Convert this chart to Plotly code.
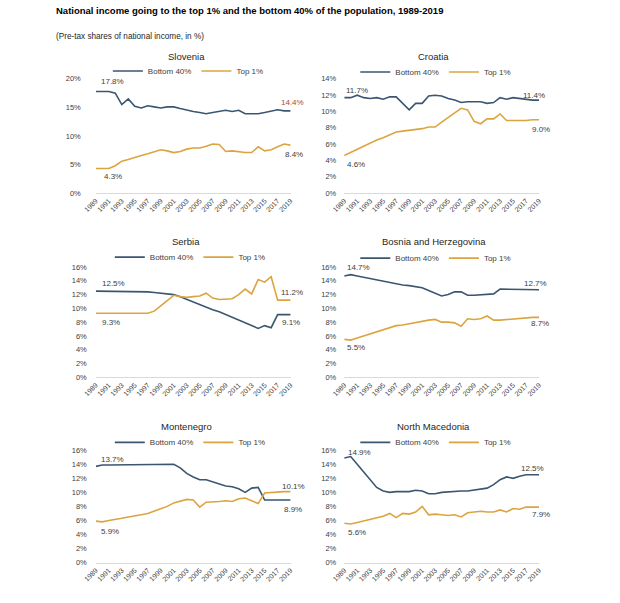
import plotly.graph_objects as go

YEARS = list(range(1989, 2020))
TICK_YEARS = list(range(1989, 2020, 2))
TICK_TEXT = [str(y) for y in TICK_YEARS]

COUNTRIES = ["Slovenia", "Croatia", "Serbia", "Bosnia and Herzegovina", "Montenegro", "North Macedonia"]

slovenia_bottom40 = [17.8, 17.8, 17.8, 17.5, 15.5, 16.5, 15.2, 14.9, 15.3, 15.1, 14.9, 15.1, 15.1, 14.8, 14.5, 14.3,
                     14.1, 13.9, 14.1, 14.3, 14.5, 14.3, 14.5, 13.9, 13.9, 13.9, 14.1, 14.3, 14.6, 14.4, 14.4]
slovenia_top1 = [4.3, 4.3, 4.3, 4.8, 5.6, 5.9, 6.3, 6.6, 6.9, 7.2, 7.6, 7.4, 7.1, 7.3, 7.7, 7.9,
                 7.9, 8.2, 8.6, 8.5, 7.3, 7.4, 7.2, 7.1, 7.1, 8.1, 7.4, 7.6, 8.1, 8.6, 8.4]

croatia_bottom40 = [11.7, 11.7, 12.0, 11.7, 11.6, 11.7, 11.5, 11.8, 11.8, 11.0, 10.2, 11.0, 11.0, 11.9, 12.0, 11.9,
                    11.6, 11.4, 11.1, 11.2, 11.2, 11.2, 11.0, 11.1, 11.7, 11.5, 11.7, 11.6, 11.5, 11.4, 11.4]
croatia_top1 = [4.6, 5.0, 5.4, 5.8, 6.1, 6.5, 6.8, 7.2, 7.5, 7.6, 7.7, 7.8, 7.9, 8.1, 8.1, 8.7,
                9.3, 9.9, 10.4, 10.2, 8.8, 8.5, 9.1, 9.1, 9.7, 8.9, 8.9, 8.9, 8.9, 9.0, 9.0]

serbia_bottom40 = [12.5, 12.5, 12.5, 12.5, 12.5, 12.5, 12.5, 12.5, 12.4, 12.3, 12.2, 12.1, 12.0, 11.7, 11.3, 10.9,
                   10.5, 10.1, 9.8, 9.5, 9.1, 8.7, 8.2, 7.9, 7.5, 7.1, 7.5, 7.2, 9.1, 9.1, 9.1]
serbia_top1 = [9.3, 9.3, 9.3, 9.3, 9.3, 9.3, 9.3, 9.3, 9.3, 9.6, 10.4, 11.2, 11.9, 11.7, 11.6, 11.7,
               11.8, 12.2, 11.5, 11.3, 11.4, 11.4, 12.0, 12.8, 12.1, 14.2, 13.8, 14.6, 11.2, 11.2, 11.2]

bosnia_bottom40 = [14.7, 14.9, 14.7, 14.5, 14.3, 14.1, 13.9, 13.7, 13.5, 13.4, 13.3, 13.1, 13.0, 12.6, 12.2, 11.8,
                   12.0, 12.4, 12.4, 11.9, 11.9, 12.0, 12.0, 12.1, 12.8, 12.8, 12.7, 12.8, 12.7, 12.7, 12.7]
bosnia_top1 = [5.5, 5.4, 5.7, 6.0, 6.3, 6.6, 6.9, 7.2, 7.5, 7.6, 7.8, 8.0, 8.2, 8.3, 8.4, 8.0,
               8.0, 7.9, 7.4, 8.5, 8.4, 8.5, 8.9, 8.3, 8.3, 8.4, 8.5, 8.5, 8.6, 8.7, 8.7]

montenegro_bottom40 = [13.7, 13.9, 13.9, 13.9, 13.9, 13.9, 13.9, 13.9, 13.9, 14.0, 14.0, 14.0, 14.0, 13.5, 12.7, 12.2,
                       11.8, 11.8, 11.5, 11.2, 10.9, 10.8, 10.5, 10.0, 10.6, 10.7, 8.9, 8.9, 8.9, 8.9, 8.9]
montenegro_top1 = [5.9, 5.8, 6.0, 6.1, 6.3, 6.5, 6.6, 6.8, 7.0, 7.3, 7.6, 8.0, 8.5, 8.8, 9.0, 8.9,
                   7.9, 8.6, 8.6, 8.7, 8.8, 8.7, 9.1, 9.2, 8.8, 8.4, 9.9, 10.0, 10.0, 10.1, 10.1]

macedonia_bottom40 = [14.9, 15.1, 14.0, 12.9, 11.8, 10.7, 10.2, 10.0, 10.1, 10.1, 10.1, 10.3, 10.2, 9.8, 9.8, 10.0,
                      10.1, 10.2, 10.2, 10.2, 10.3, 10.4, 10.6, 11.1, 11.8, 12.2, 12.0, 12.3, 12.5, 12.5, 12.5]
macedonia_top1 = [5.6, 5.5, 5.7, 5.9, 6.1, 6.3, 6.6, 7.0, 6.4, 7.0, 6.9, 7.2, 8.0, 6.8, 6.9, 6.8,
                  6.7, 6.8, 6.5, 7.1, 7.2, 7.3, 7.2, 7.2, 7.5, 7.2, 7.7, 7.6, 7.9, 7.9, 7.9]

BOTTOM40 = [slovenia_bottom40, croatia_bottom40, serbia_bottom40, bosnia_bottom40, montenegro_bottom40, macedonia_bottom40]
TOP1 = [slovenia_top1, croatia_top1, serbia_top1, bosnia_top1, montenegro_top1, macedonia_top1]
Y_MAX = [20, 14, 16, 16, 16, 16]
Y_DTICK = [5, 2, 2, 2, 2, 2]

TITLE = "National income going to the top 1% and the bottom 40% of the population, 1989-2019"
SUBTITLE = "(Pre-tax shares of national income, in %)"

# ---------- styling / layout ----------
W, H = 620, 603
FONT = "Liberation Sans, Arial, sans-serif"
C_BOTTOM = "#3a5670"
C_TOP = "#dca43f"
TXT = "#404040"

def px_x(p):
    return p / W

def px_y(p):
    return 1 - p / H

X_DOMAINS = [(85, 285), (340, 540)]
Y_DOMAINS = [(76, 192), (267, 379), (453, 567)]
TITLE_POS = [(178, 53), (432, 53), (178, 241), (432, 241), (178, 429), (432, 429)]
LEGEND_POS = [(180, 68), (434, 69), (182, 257), (434, 258), (182, 445), (434, 445)]
STANDOFF = [14, 7, 8, 7, 8, 7]
# (xshift, yshift) for start-top, start-bottom, end-top, end-bottom labels
LABEL_SHIFTS = [
    [(17, 10), (17, -8), (2, 8), (3, -9)],
    [(13, 7), (12, -9), (-5, 5), (2, -10)],
    [(18, 8), (15, -9), (1, 8), (0, -8)],
    [(14, 8), (12, -8), (-4, 6), (1, -6)],
    [(17, 7), (14, -10), (3, 5), (2, -9)],
    [(15, 5), (13, -9), (-7, 6), (2, -7)],
]

fig = go.Figure()
layout = dict(
    width=W, height=H, margin=dict(l=0, r=0, t=0, b=0), autosize=False,
    paper_bgcolor="white", plot_bgcolor="white",
    font=dict(family=FONT, color=TXT, size=8),
    annotations=[], showlegend=True,
)

for i, country in enumerate(COUNTRIES):
    col = i % 2
    row = i // 2
    n = "" if i == 0 else str(i + 1)
    xa, ya = "x" + n, "y" + n
    leg = "legend" + n
    fig.add_trace(go.Scatter(x=YEARS, y=BOTTOM40[i], mode="lines", name="Bottom 40%",
                             line=dict(color=C_BOTTOM, width=1.6), xaxis=xa, yaxis=ya,
                             legend=leg, hoverinfo="skip"))
    fig.add_trace(go.Scatter(x=YEARS, y=TOP1[i], mode="lines", name="Top 1%",
                             line=dict(color=C_TOP, width=1.6), xaxis=xa, yaxis=ya,
                             legend=leg, hoverinfo="skip"))
    xd = X_DOMAINS[col]
    yd = Y_DOMAINS[row]
    layout["xaxis" + n] = dict(
        domain=[px_x(xd[0]), px_x(xd[1])], range=[1989, 2019], anchor=ya,
        tickmode="array", tickvals=TICK_YEARS, ticktext=TICK_TEXT, tickangle=-45,
        tickfont=dict(size=7, color="#404040"), showgrid=False, zeroline=False,
        showline=True, linecolor="#d9d9d9", linewidth=1, ticks="", fixedrange=True,
    )
    layout["yaxis" + n] = dict(
        domain=[px_y(yd[1]), px_y(yd[0])], range=[0, Y_MAX[i]], anchor=xa,
        dtick=Y_DTICK[i], ticksuffix="%", tickfont=dict(size=7.5, color="#404040"),
        showgrid=False, zeroline=False, showline=False, ticks="",
        ticklabelstandoff=STANDOFF[i], fixedrange=True,
    )
    lx, ly = LEGEND_POS[i]
    layout[leg] = dict(
        orientation="h", x=px_x(lx), y=px_y(ly), xanchor="center", yanchor="middle",
        font=dict(size=8, color=TXT), bgcolor="rgba(0,0,0,0)",
        tracegroupgap=0,
    )
    tx, ty = TITLE_POS[i]
    layout["annotations"].append(dict(
        text=country, x=px_x(tx), y=px_y(ty), xref="paper", yref="paper",
        showarrow=False, font=dict(size=9.5, color="#262626"), xanchor="center", yanchor="middle"))
    # data labels
    b, t = BOTTOM40[i], TOP1[i]
    hi0, lo0 = (b[0], t[0]) if b[0] >= t[0] else (t[0], b[0])
    hiN, loN = (b[-1], t[-1]) if b[-1] >= t[-1] else (t[-1], b[-1])
    pts = [(YEARS[0], hi0), (YEARS[0], lo0), (YEARS[-1], hiN), (YEARS[-1], loN)]
    for k, (xv, yv) in enumerate(pts):
        xs, ys = LABEL_SHIFTS[i][k]
        color = "#a04a4a" if (i == 0 and k == 2) else TXT
        layout["annotations"].append(dict(
            text=f"{yv:.1f}%", x=xv, y=yv, xref=xa, yref=ya, showarrow=False,
            xshift=xs, yshift=ys, xanchor="center", yanchor="middle",
            font=dict(size=8, color=color)))

layout["annotations"].append(dict(
    text="<b>" + TITLE + "</b>", x=px_x(42), y=px_y(7), xref="paper", yref="paper",
    showarrow=False, xanchor="left", yanchor="middle", font=dict(size=9.5, color="#000000")))
layout["annotations"].append(dict(
    text=SUBTITLE, x=px_x(42), y=px_y(33), xref="paper", yref="paper",
    showarrow=False, xanchor="left", yanchor="middle", font=dict(size=8.2, color="#262626")))

fig.update_layout(**layout)
fig.write_html(
    "out.html",
    config={"displayModeBar": False, "staticPlot": True},
    post_script="document.body.style.margin='0px';document.documentElement.style.overflow='hidden';",
)
